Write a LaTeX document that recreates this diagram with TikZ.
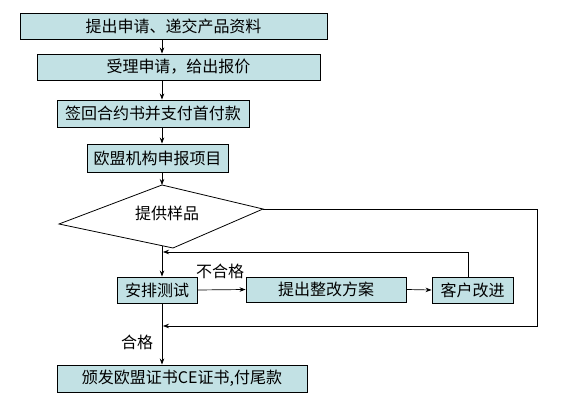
\documentclass[tikz,border=0pt]{standalone}
\usepackage{fontspec}
\newfontfamily\cjk{Noto Sans CJK SC}
\usetikzlibrary{arrows.meta}
\definecolor{boxfill}{HTML}{C2E1E4}
\begin{document}
\begin{tikzpicture}[x=1pt,y=-1pt,
  box/.style={draw=black, fill=boxfill, line width=0.9pt, inner sep=0pt,
    font=\cjk\fontsize{16}{16}\selectfont},
  arr/.style={-{Stealth[length=6pt,width=4.5pt]}, line width=0.7pt},
  ln/.style={line width=0.7pt},
  lbl/.style={font=\cjk\fontsize{16}{16}\selectfont, inner sep=0pt}]
\useasboundingbox (0,0) rectangle (571,414);
\fill[white] (0,0) rectangle (571,414);
\coordinate (spine) at (162,0);
% boxes
\node[box, minimum width=307pt, minimum height=26pt] (b1) at (173.5,26) {提出申请、递交产品资料};
\node[box, minimum width=283pt, minimum height=26pt] (b2) at (178.5,67) {受理申请，给出报价};
\node[box, minimum width=192pt, minimum height=27pt] (b3) at (153,113.5) {签回合约书并支付首付款};
\node[box, minimum width=141pt, minimum height=28pt] (b4) at (157.5,158) {欧盟机构申报项目};
% diamond
\coordinate (dt) at (162,185);
\coordinate (dr) at (263,209);
\coordinate (db) at (173,248);
\coordinate (dl) at (59,224);
\coordinate (dout) at (162,245.7);
\draw[line width=0.8pt, fill=white] (dt) -- (dr) -- (db) -- (dl) -- cycle;
\node[lbl] (dtext) at (167,213) {提供样品};
% row boxes
\node[box, minimum width=80pt, minimum height=26pt] (t) at (157,290) {安排测试};
\node[box, minimum width=160pt, minimum height=25pt] (p) at (326,289.5) {提出整改方案};
\node[box, minimum width=81pt, minimum height=26pt] (c) at (472.5,290) {客户改进};
\node[box, minimum width=250pt, minimum height=27pt] (f) at (182,378.5) {颁发欧盟证书CE证书,付尾款};
% labels
\node[lbl] (l1) at (220,271) {不合格};
\node[lbl] (l2) at (137,342) {合格};
% loop helpers
\coordinate (fbtop) at (468,252);
\coordinate (fbend) at (163,252);
\coordinate (rtop) at (537,209);
\coordinate (rbot) at (537,326);
\coordinate (rend) at (163,326);
% connectors
\draw[arr] (b1.south -| spine) -- (b2.north -| spine);
\draw[arr] (b2.south -| spine) -- (b3.north -| spine);
\draw[arr] (b3.south -| spine) -- (b4.north -| spine);
\draw[arr] (b4.south -| spine) -- (dt);
\draw[arr] (dout) -- (t.north -| spine);
\draw[arr] (t.east) -- (p.west);
\draw[arr] (p.east) -- (c.west);
\draw[arr] (c.north -| fbtop) -- (fbtop) -- (fbend);
\draw[arr] (dr) -- (rtop) -- (rbot) -- (rend);
\draw[arr] (t.south -| spine) -- (f.north -| spine);
\end{tikzpicture}
\end{document}
